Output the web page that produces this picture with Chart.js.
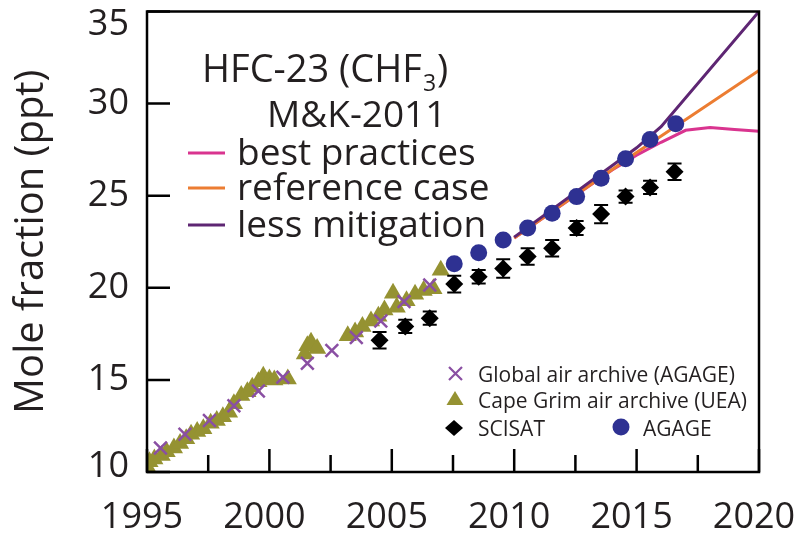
<!DOCTYPE html>
<html>
<head>
<meta charset="utf-8">
<script src="https://cdn.jsdelivr.net/npm/chart.js@4/dist/chart.umd.min.js"></script>
<style>
  html, body { margin: 0; padding: 0; background: #ffffff; }
  #wrap { width: 800px; height: 533px; }
</style>
</head>
<body>
<div id="wrap"><canvas id="hfc" width="800" height="533"></canvas></div>
<script>
// HFC-23 (CHF3) mole fraction, observations and M&K-2011 scenarios

// Global air archive (AGAGE)
const archiveYears  = [1995.55, 1996.55, 1997.55, 1998.55, 1999.55, 2000.55, 2001.55, 2002.55, 2003.55, 2004.55, 2005.5, 2006.55];
const archiveValues = [11.3, 12.05, 12.8, 13.6, 14.4, 15.15, 15.9, 16.6, 17.3, 18.2, 19.25, 20.15];

// Cape Grim air archive (UEA)
const capeGrimYears  = [1995.0, 1995.1, 1995.3, 1995.6, 1995.8, 1996.1, 1996.35, 1996.6, 1996.8, 1997.05, 1997.3, 1997.6, 1997.85, 1998.1, 1998.35, 1998.55, 1998.85, 1999.1, 1999.3, 1999.55, 1999.75, 2000.0, 2000.2, 2000.75, 2001.45, 2001.55, 2001.7, 2001.95, 2003.2, 2003.5, 2003.8, 2004.15, 2004.45, 2004.7, 2005.05, 2005.2, 2005.6, 2005.95, 2006.3, 2006.7, 2007.0];
const capeGrimValues = [10.3, 10.55, 10.7, 10.9, 11.1, 11.3, 11.55, 11.8, 12.05, 12.2, 12.35, 12.65, 12.8, 13.0, 13.25, 13.7, 14.15, 14.35, 14.6, 14.9, 15.2, 15.05, 15.0, 15.05, 16.4, 16.85, 17.05, 16.7, 17.4, 17.6, 17.9, 18.2, 18.45, 18.8, 19.7, 18.95, 19.3, 19.65, 19.85, 19.95, 20.95];

// SCISAT with uncertainty
const scisatYears  = [2004.5, 2005.55, 2006.55, 2007.55, 2008.55, 2009.55, 2010.55, 2011.55, 2012.55, 2013.55, 2014.55, 2015.55, 2016.55];
const scisatValues = [17.15, 17.9, 18.35, 20.2, 20.6, 21.05, 21.7, 22.15, 23.25, 24.0, 24.95, 25.45, 26.3];
const scisatErrors = [0.45, 0.36, 0.36, 0.45, 0.36, 0.5, 0.45, 0.45, 0.38, 0.5, 0.33, 0.36, 0.45];

// AGAGE in situ
const agageYears  = [2007.55, 2008.55, 2009.55, 2010.55, 2011.55, 2012.55, 2013.55, 2014.55, 2015.55, 2016.6];
const agageValues = [21.3, 21.9, 22.6, 23.25, 24.05, 24.95, 25.95, 27.0, 28.05, 28.9];

// M&K-2011 scenarios
const bestYears  = [2010, 2014, 2015, 2016, 2017, 2018, 2019, 2020];
const bestValues = [22.7, 26.4, 27.2, 27.9, 28.55, 28.7, 28.6, 28.5];
const refYears   = [2010, 2015, 2020];
const refValues  = [22.7, 27.35, 31.8];
const lessYears  = [2010, 2015, 2016, 2020];
const lessValues = [22.75, 27.6, 28.75, 35.0];

// Axis ticks
const xMajorTicks = [1995, 2000, 2005, 2010, 2015, 2020];
const xMinorTicks = [1997.5, 2002.5, 2007.5, 2012.5, 2017.5];
const yTicks = [10, 15, 20, 25, 30, 35];

const INK = '#231f20';
const FONT = '"Open Sans", "Noto Sans", sans-serif';
const COLORS = {
  archive: '#8a4fa3',
  capeGrim: '#959232',
  scisat: '#000000',
  agage: '#2e3192',
  best: '#d9348f',
  ref: '#ec7d32',
  less: '#5e2673'
};

const pts = (xs, ys) => xs.map((x, i) => ({ x: x, y: ys[i] }));

// Error bars, frame, inward ticks and keys
const decorations = {
  id: 'decorations',
  afterDatasetsDraw(chart) {
    const ctx = chart.ctx;
    const xs = chart.scales.x, ys = chart.scales.y;
    ctx.save();
    ctx.strokeStyle = '#000';
    ctx.lineWidth = 2;
    scisatYears.forEach((yr, i) => {
      const px = xs.getPixelForValue(yr);
      const top = ys.getPixelForValue(scisatValues[i] + scisatErrors[i]);
      const bot = ys.getPixelForValue(scisatValues[i] - scisatErrors[i]);
      ctx.beginPath();
      ctx.moveTo(px, top); ctx.lineTo(px, bot);
      ctx.moveTo(px - 7, top); ctx.lineTo(px + 7, top);
      ctx.moveTo(px - 7, bot); ctx.lineTo(px + 7, bot);
      ctx.stroke();
    });
    ctx.restore();
  },
  afterDraw(chart) {
    const ctx = chart.ctx;
    const a = chart.chartArea;
    const xs = chart.scales.x, ys = chart.scales.y;
    ctx.save();
    ctx.strokeStyle = '#000';
    ctx.lineWidth = 2.5;
    ctx.strokeRect(a.left, a.top, a.right - a.left, a.bottom - a.top);
    ctx.beginPath();
    xMajorTicks.forEach(v => {
      const px = xs.getPixelForValue(v);
      ctx.moveTo(px, a.bottom); ctx.lineTo(px, a.bottom - 23);
    });
    xMinorTicks.forEach(v => {
      const px = xs.getPixelForValue(v);
      ctx.moveTo(px, a.bottom); ctx.lineTo(px, a.bottom - 17);
    });
    yTicks.forEach(v => {
      const py = ys.getPixelForValue(v);
      ctx.moveTo(a.left, py); ctx.lineTo(a.left + 23, py);
    });
    ctx.stroke();

    // Scenario key
    ctx.fillStyle = INK;
    ctx.textBaseline = 'alphabetic';
    ctx.textAlign = 'left';
    ctx.font = '38px ' + FONT;
    const t1 = 'HFC-23 (CHF';
    ctx.fillText(t1, 202, 82);
    const w = ctx.measureText(t1).width;
    ctx.font = '23px ' + FONT;
    ctx.fillText('3', 202 + w + 1, 91);
    const w3 = ctx.measureText('3').width;
    ctx.font = '38px ' + FONT;
    ctx.fillText(')', 202 + w + w3 + 2, 82);
    ctx.font = '37px ' + FONT;
    ctx.fillText('M&K-2011', 267, 127);

    const rows = [
      ['best practices', COLORS.best, 165],
      ['reference case', COLORS.ref, 200],
      ['less mitigation', COLORS.less, 237]
    ];
    rows.forEach(r => {
      ctx.strokeStyle = r[1];
      ctx.lineWidth = 3;
      ctx.beginPath();
      ctx.moveTo(188, r[2] - 12); ctx.lineTo(225, r[2] - 12);
      ctx.stroke();
      ctx.fillStyle = INK;
      ctx.fillText(r[0], 237, r[2]);
    });

    // Observation key
    ctx.font = '21px ' + FONT;
    ctx.fillStyle = INK;
    ctx.fillText('Global air archive (AGAGE)', 478, 382);
    ctx.fillText('Cape Grim air archive (UEA)', 478, 408);
    ctx.fillText('SCISAT', 478, 436);
    ctx.fillText('AGAGE', 643, 436);

    ctx.strokeStyle = COLORS.archive;
    ctx.lineWidth = 2.2;
    ctx.beginPath();
    ctx.moveTo(449, 367); ctx.lineTo(462, 380);
    ctx.moveTo(462, 367); ctx.lineTo(449, 380);
    ctx.stroke();

    ctx.fillStyle = COLORS.capeGrim;
    ctx.beginPath();
    ctx.moveTo(455, 391); ctx.lineTo(463.5, 405); ctx.lineTo(446.5, 405);
    ctx.closePath(); ctx.fill();

    ctx.fillStyle = '#000';
    ctx.beginPath();
    ctx.moveTo(454, 420); ctx.lineTo(463, 428); ctx.lineTo(454, 436); ctx.lineTo(445, 428);
    ctx.closePath(); ctx.fill();

    ctx.fillStyle = COLORS.agage;
    ctx.beginPath();
    ctx.arc(621, 427, 8.5, 0, Math.PI * 2);
    ctx.fill();
    ctx.restore();
  }
};

// Edge labels sit a little inside the frame
const yLabel = v => (v === 35 ? ['', '35'] : v === 10 ? ['10', ''] : String(v));
const yLineHeight = v => (v === 35 ? 0.72 : v === 10 ? 0.28 : 1.2);

new Chart(document.getElementById('hfc'), {
  type: 'scatter',
  data: {
    datasets: [
      {
        label: 'SCISAT',
        data: pts(scisatYears, scisatValues),
        pointStyle: 'rectRot', pointRadius: 9,
        backgroundColor: COLORS.scisat, borderColor: COLORS.scisat, borderWidth: 0,
        order: 1
      },
      {
        label: 'AGAGE',
        data: pts(agageYears, agageValues),
        pointStyle: 'circle', pointRadius: 8.5,
        backgroundColor: COLORS.agage, borderColor: COLORS.agage, borderWidth: 0,
        order: 2
      },
      {
        label: 'less mitigation',
        data: pts(lessYears, lessValues),
        showLine: true, pointRadius: 0, borderColor: COLORS.less, borderWidth: 3,
        order: 3
      },
      {
        label: 'reference case',
        data: pts(refYears, refValues),
        showLine: true, pointRadius: 0, borderColor: COLORS.ref, borderWidth: 3,
        order: 4
      },
      {
        label: 'best practices',
        data: pts(bestYears, bestValues),
        showLine: true, pointRadius: 0, borderColor: COLORS.best, borderWidth: 3,
        order: 5
      },
      {
        label: 'Global air archive (AGAGE)',
        data: pts(archiveYears, archiveValues),
        pointStyle: 'crossRot', pointRadius: 9,
        borderColor: COLORS.archive, backgroundColor: COLORS.archive, borderWidth: 2.5,
        order: 6
      },
      {
        label: 'Cape Grim air archive (UEA)',
        data: pts(capeGrimYears, capeGrimValues),
        pointStyle: 'triangle', pointRadius: 10.5,
        backgroundColor: COLORS.capeGrim, borderColor: COLORS.capeGrim, borderWidth: 0,
        order: 7
      }
    ]
  },
  options: {
    responsive: false,
    devicePixelRatio: 1,
    animation: false,
    layout: { padding: { left: 0, right: 41, top: 11, bottom: 0 } },
    plugins: { legend: { display: false }, tooltip: { enabled: false } },
    scales: {
      x: {
        type: 'linear', min: 1995, max: 2020,
        afterFit(s) { s.height = 61; s.paddingLeft = 0; s.paddingRight = 0; },
        afterBuildTicks(s) { s.ticks = xMajorTicks.map(v => ({ value: v })); },
        grid: { display: false, drawTicks: false },
        border: { display: false },
        ticks: {
          color: INK, font: { family: FONT, size: 36 }, padding: 24, labelOffset: -5,
          maxRotation: 0, autoSkip: false,
          callback: v => String(v)
        }
      },
      y: {
        type: 'linear', min: 10, max: 35,
        afterFit(s) { s.width = 147; s.paddingTop = 0; s.paddingBottom = 0; },
        afterBuildTicks(s) { s.ticks = yTicks.map(v => ({ value: v })); },
        grid: { display: false, drawTicks: false },
        border: { display: false },
        ticks: {
          color: INK, padding: 18,
          font: c => ({ family: FONT, size: 36, lineHeight: yLineHeight(c.tick ? c.tick.value : 0) }),
          callback: v => yLabel(v)
        },
        title: {
          display: true, text: 'Mole fraction (ppt)', color: INK,
          font: { family: FONT, size: 40 }, padding: { top: 8, bottom: 0 }
        }
      }
    }
  },
  plugins: [decorations]
});
</script>
</body>
</html>
